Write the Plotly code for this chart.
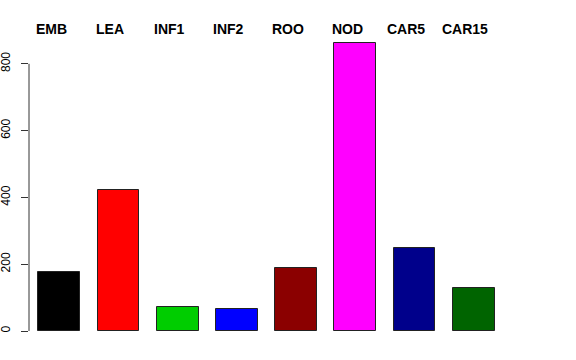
import plotly.graph_objects as go

categories = ["EMB", "LEA", "INF1", "INF2", "ROO", "NOD", "CAR5", "CAR15"]
values = [176, 423, 73, 65, 188, 862, 248, 130]
colors = ["#000000", "#FF0000", "#00CD00", "#0000FF", "#8B0000", "#FF00FF", "#00008B", "#006400"]
tick_vals = [0, 200, 400, 600, 800]
tick_text = ["0", "200", "400", "600", "800"]

xs = list(range(len(categories)))

H = 360
top, bottom = 30, 20
y0px, ppu = 331.0, 0.334
ymin = (y0px - (H - bottom)) / ppu
ymax = (y0px - top) / ppu
label_px = 29.5
label_paper = ((H - bottom) - label_px) / (H - top - bottom)

fig = go.Figure()
fig.add_trace(go.Bar(
    x=xs, y=values, width=0.704,
    marker=dict(color=colors, line=dict(color="#222222", width=1)),
    hoverinfo="skip",
))

for i, c in enumerate(categories):
    fig.add_annotation(x=i - 0.14, xref="x", y=label_paper, yref="paper",
                       text="<b>%s</b>" % c, showarrow=False,
                       font=dict(family="Liberation Sans", size=14, color="black"),
                       xanchor="center", yanchor="middle")

# R-style axis line spanning only 0..800
fig.add_shape(type="line", xref="paper", yref="y", x0=0, x1=0, y0=0, y1=800,
              line=dict(color="#333333", width=1))

fig.update_layout(
    width=576, height=H,
    margin=dict(l=29, r=43, t=top, b=bottom, autoexpand=False),
    plot_bgcolor="white", paper_bgcolor="white",
    showlegend=False,
    bargap=0,
    xaxis=dict(range=[-0.512, 8.0015], showticklabels=False, showgrid=False,
               zeroline=False, showline=False, ticks="", automargin=False),
    yaxis=dict(range=[ymin, ymax], tickvals=tick_vals, ticktext=tick_text,
               ticks="outside", ticklen=7, tickcolor="#333333", tickwidth=1,
               tickangle=-90, showgrid=False, zeroline=False, showline=False,
               automargin=False,
               tickfont=dict(family="Liberation Sans", size=12, color="black"),
               ticklabelstandoff=6),
)

fig.write_html("out.html")
